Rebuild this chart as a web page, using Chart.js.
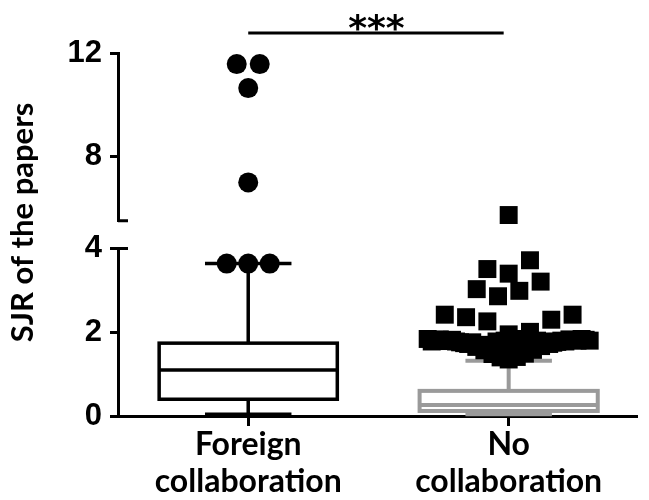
<!DOCTYPE html>
<html>
<head>
<meta charset="utf-8">
<script src="https://cdn.jsdelivr.net/npm/chart.js@4/dist/chart.umd.min.js"></script>
<style>
  html, body { margin: 0; padding: 0; background: #fff; }
  canvas { display: block; }
</style>
</head>
<body>
<canvas id="chart" width="649" height="500"></canvas>
<script>
// ---- data ----
const categories = [['Foreign', 'collaboration'], ['No', 'collaboration']];
const yTitle = 'SJR of the papers';
const significance = '***';

const lowerRange = [0, 4];
const upperRange = [5.5, 12];
const lowerTicks = [0, 2, 4];
const upperTicks = [8, 12];

// [lower whisker, Q1, median, Q3, upper whisker]
const foreignStats = [0.04, 0.40, 1.10, 1.74, 3.64];
const noCollabStats = [0.04, 0.12, 0.26, 0.60, 1.32];

// outliers, foreign collaboration
const foreignOutliersLow = [3.64, 3.64, 3.64];
const foreignOutliersHigh = [11.57, 10.64, 11.57, 6.99];

// outliers, no collaboration
const noCollabOutliers = [
  1.35, 1.80, 1.83, 1.40, 1.41, 1.78, 1.84, 1.48, 1.49, 1.68,
  1.82, 1.57, 1.58, 1.70, 1.80, 1.65, 1.67, 1.76, 1.78, 1.72,
  1.72, 1.74, 1.75, 1.76, 1.77, 1.78, 1.80, 1.82, 1.78, 1.79,
  1.83, 1.80, 1.81, 1.83, 1.80, 1.81, 1.84, 1.78, 1.82, 1.84,
  1.80,
  1.95, 2.26, 2.01, 2.36, 2.30, 2.42, 2.42,
  2.86, 2.99, 3.03, 3.21,
  3.40, 3.51, 3.72,
  4.80
];

// ---- styling ----
const BOX_HALF = 0.342;   // box half width, category units
const CAP_HALF = 0.166;   // whisker cap half width
const GRAY = '#9a9a9a';
const boxes = [
  { cat: 1, stats: foreignStats, color: '#000', width: 3.5 },
  { cat: 2, stats: noCollabStats, color: GRAY, width: 4 }
];

// Scatter columns: points are grouped into rows (by pixel height) and
// spread left/right from the column centre in data order.
function swarmOffsets(values, yScale, spacing, rowPx, maxHalf) {
  const order = values.map((v, i) => i).sort((a, b) => values[a] - values[b]);
  const offsets = new Array(values.length).fill(0);
  let k = 0;
  while (k < order.length) {
    const startPx = yScale.getPixelForValue(values[order[k]]);
    const row = [];
    while (k < order.length && startPx - yScale.getPixelForValue(values[order[k]]) < rowPx) {
      row.push(order[k]);
      k++;
    }
    row.sort((a, b) => a - b);
    const n = row.length;
    const step = n > 1 ? Math.min(spacing, 2 * maxHalf / (n - 1)) : 0;
    row.forEach((m, j) => {
      let slot;
      if (n % 2) {
        slot = j === 0 ? 0 : (j % 2 ? -Math.ceil(j / 2) : Math.ceil(j / 2));
      } else {
        const r = Math.floor(j / 2) + 0.5;
        slot = j % 2 ? r : -r;
      }
      offsets[m] = slot * step;
    });
  }
  return offsets;
}

function placeSwarm(chart) {
  const xs = chart.scales.x;
  chart.data.datasets.forEach(ds => {
    const ys = chart.scales[ds.yAxisID];
    const vals = ds.data.map(p => p.y);
    const offs = swarmOffsets(vals, ys, ds.swarmSpacing, 21, 81);
    const cx = xs.getPixelForValue(ds.category);
    ds.data.forEach((p, i) => { p.x = xs.getValueForPixel(cx + offs[i]); });
  });
  chart.update('none');
}

const boxPlotPlugin = {
  id: 'boxPlot',
  beforeDatasetsDraw(chart) {
    const { ctx } = chart;
    const xs = chart.scales.x, ys = chart.scales.y;
    boxes.forEach(b => {
      const cx = xs.getPixelForValue(b.cat);
      const half = xs.getPixelForValue(b.cat + BOX_HALF) - cx;
      const cap = xs.getPixelForValue(b.cat + CAP_HALF) - cx;
      const [lo, q1, med, q3, hi] = b.stats.map(v => ys.getPixelForValue(v));
      ctx.save();
      ctx.strokeStyle = b.color;
      ctx.lineWidth = b.width;
      ctx.beginPath();
      ctx.moveTo(cx, q3); ctx.lineTo(cx, hi);
      ctx.moveTo(cx - cap, hi); ctx.lineTo(cx + cap, hi);
      ctx.moveTo(cx, q1); ctx.lineTo(cx, lo);
      ctx.moveTo(cx - cap, lo); ctx.lineTo(cx + cap, lo);
      ctx.stroke();
      ctx.fillStyle = '#fff';
      ctx.fillRect(cx - half, q3, 2 * half, q1 - q3);
      ctx.strokeRect(cx - half, q3, 2 * half, q1 - q3);
      ctx.beginPath();
      ctx.moveTo(cx - half, med); ctx.lineTo(cx + half, med);
      ctx.stroke();
      ctx.restore();
    });
  }
};

const decorPlugin = {
  id: 'decor',
  afterDraw(chart) {
    const { ctx, chartArea } = chart;
    const yLow = chart.scales.y, yHigh = chart.scales.yTop, xs = chart.scales.x;
    const axisX = chartArea.left;
    ctx.save();
    ctx.strokeStyle = '#000';
    ctx.lineWidth = 3;
    // break marks on the split axis
    ctx.beginPath();
    ctx.moveTo(axisX, yHigh.bottom); ctx.lineTo(axisX + 10, yHigh.bottom);
    ctx.moveTo(axisX, yLow.top); ctx.lineTo(axisX + 10, yLow.top);
    ctx.stroke();
    // significance bracket
    const x1 = xs.getPixelForValue(1), x2 = xs.getPixelForValue(2);
    const by = chartArea.top - 20;
    ctx.beginPath();
    ctx.moveTo(x1, by); ctx.lineTo(x2 - 5, by);
    ctx.stroke();
    ctx.fillStyle = '#000';
    ctx.font = 'bold 36px "DejaVu Sans"';
    ctx.textAlign = 'center';
    ctx.textBaseline = 'alphabetic';
    ctx.fillText(significance, (x1 + x2) / 2 - 2, by + 7);
    // y-axis title
    ctx.translate(23, (chartArea.top + chartArea.bottom) / 2 - 12);
    ctx.rotate(-Math.PI / 2);
    ctx.font = 'bold 31px Lato';
    ctx.textBaseline = 'middle';
    ctx.fillText(yTitle, 0, 0);
    ctx.restore();
  }
};

const tickFont = { family: 'Liberation Sans', size: 31, weight: 'bold' };
function yAxis(range, ticks, weight, stackWeight) {
  return {
    type: 'linear',
    position: 'left',
    stack: 'left',
    stackWeight: stackWeight,
    weight: weight,
    min: range[0],
    max: range[1],
    afterBuildTicks: s => { s.ticks = ticks.map(v => ({ value: v })); },
    afterFit: s => { s.width = 50; },
    ticks: { font: tickFont, color: '#000', padding: 8 },
    grid: { drawOnChartArea: false, tickLength: 8, tickWidth: 3, tickColor: '#000', lineWidth: 3, color: '#000' },
    border: { color: '#000', width: 3 }
  };
}

const chart = new Chart(document.getElementById('chart'), {
  type: 'scatter',
  data: {
    datasets: [
      {
        data: foreignOutliersLow.map(v => ({ x: 1, y: v })),
        yAxisID: 'y', category: 1, swarmSpacing: 21.5, clip: false,
        pointStyle: 'circle', pointRadius: 10, pointBorderWidth: 0,
        backgroundColor: '#000', borderColor: '#000'
      },
      {
        data: foreignOutliersHigh.map(v => ({ x: 1, y: v })),
        yAxisID: 'yTop', category: 1, swarmSpacing: 23, clip: false,
        pointStyle: 'circle', pointRadius: 10, pointBorderWidth: 0,
        backgroundColor: '#000', borderColor: '#000'
      },
      {
        data: noCollabOutliers.map(v => ({ x: 2, y: v })),
        yAxisID: 'y', category: 2, swarmSpacing: 21.3, clip: false,
        pointStyle: 'rect', pointRadius: 12.7, pointBorderWidth: 0,
        backgroundColor: '#000', borderColor: '#000'
      }
    ]
  },
  options: {
    responsive: false,
    animation: false,
    events: [],
    layout: { padding: { top: 53, left: 68, right: 0, bottom: 0 } },
    plugins: { legend: { display: false }, tooltip: { enabled: false } },
    scales: {
      x: {
        type: 'linear',
        position: 'bottom',
        min: 0.5,
        max: 2.49,
        afterBuildTicks: s => { s.ticks = categories.map((c, i) => ({ value: i + 1 })); },
        ticks: {
          callback: v => categories[Math.round(v) - 1],
          font: { family: 'Lato', size: 32, weight: 'bold', lineHeight: '37px' },
          color: '#000',
          padding: 0,
          maxRotation: 0
        },
        grid: { drawOnChartArea: false, tickLength: 10, tickWidth: 3, tickColor: '#000', lineWidth: 3, color: '#000' },
        border: { color: '#000', width: 3 }
      },
      yTop: yAxis(upperRange, upperTicks, 3, 167.4),
      yGap: { type: 'linear', display: false, position: 'left', stack: 'left', stackWeight: 27.6, weight: 2, min: 0, max: 1 },
      y: yAxis(lowerRange, lowerTicks, 1, 167)
    }
  },
  plugins: [boxPlotPlugin, decorPlugin]
});

placeSwarm(chart);
</script>
</body>
</html>
